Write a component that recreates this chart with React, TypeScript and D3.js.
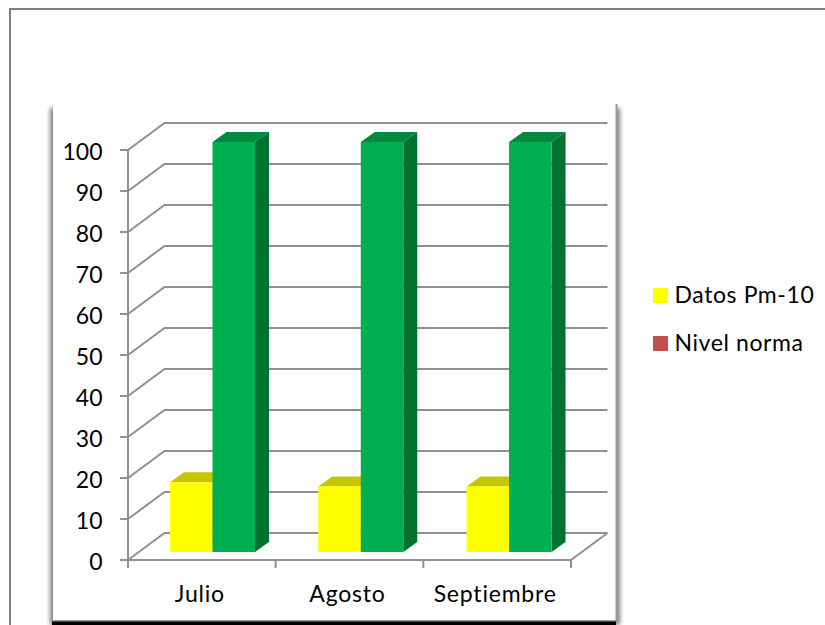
import React from "react";
import * as d3 from "d3";

const categories = ["Julio", "Agosto", "Septiembre"];
const seriesPm10 = [17, 16, 16];
const seriesNorma = [100, 100, 100];
const yTicks = [0, 10, 20, 30, 40, 50, 60, 70, 80, 90, 100];
const legendItems = [
  { label: "Datos Pm-10", color: "#ffff00" },
  { label: "Nivel norma", color: "#c0504d" },
];

const WIDTH = 825;
const HEIGHT = 625;
const FONT = "Lato, 'Open Sans', sans-serif";
const GRID = "#909090";

// Axis plane
const y = d3.scaleLinear().domain([0, 100]).range([560, 150]);
const x = d3.scaleBand<string>().domain(categories).range([128, 571]);
const depth = { dx: 36.5, dy: -27 };
// Bars sit part way into the floor
const barOffset = { dx: 11, dy: -8 };
const barDepth = { dx: 14, dy: -10 };
const barWidth = 42.5;
const barStart = 42;

function Bar({ x0, top, bottom, front, topFace, side }: { x0: number; top: number; bottom: number; front: string; topFace: string; side: string }) {
  const x1 = x0 + barWidth;
  const { dx, dy } = barDepth;
  return (
    <g>
      <path d={`M${x1},${top}L${x1 + dx},${top + dy}L${x1 + dx},${bottom + dy}L${x1},${bottom}Z`} fill={side} />
      <path d={`M${x0},${top}L${x0 + dx},${top + dy}L${x1 + dx},${top + dy}L${x1},${top}Z`} fill={topFace} />
      <rect x={x0} y={top} width={barWidth} height={bottom - top} fill={front} />
    </g>
  );
}

export default function App() {
  const step = x.step();
  const left = x.range()[0];
  const right = x.range()[1];
  return (
    <svg
      width={WIDTH}
      height={HEIGHT}
      viewBox={`0 0 ${WIDTH} ${HEIGHT}`}
      style={{ position: "absolute", left: 0, top: 0, background: "#fff" }}
    >
      <defs>
        <filter id="blur" x="-10%" y="-10%" width="120%" height="120%">
          <feGaussianBlur stdDeviation="2.2" />
        </filter>
      </defs>
      {/* Outer page frame */}
      <path d={`M10,${HEIGHT}V9H${WIDTH}`} fill="none" stroke="#808080" strokeWidth={2} />

      {/* Chart panel */}
      <rect x={50} y={108} width={570} height={517} fill="#808080" filter="url(#blur)" />
      <rect x={53} y={96} width={563} height={525} fill="#fff" />
      <path d="M616.5,104V621H53" fill="none" stroke="#9a9a9a" strokeWidth={2} />
      <rect x={52} y={621.5} width={564} height={3.5} fill="#000" />

      {/* Gridlines on wall and side */}
      {yTicks.map((t) => (
        <path
          key={t}
          d={`M120,${y(t)}H${left}L${left + depth.dx},${y(t) + depth.dy}H${right + depth.dx}`}
          fill="none"
          stroke={GRID}
          strokeWidth={2}
        />
      ))}

      {/* Floor and axes */}
      <path
        d={`M${left},${y(0)}H${right}L${right + depth.dx},${y(0) + depth.dy}`}
        fill="none"
        stroke={GRID}
        strokeWidth={2}
      />
      <path d={`M${left},${y(100)}V${y(0) + 8}`} fill="none" stroke={GRID} strokeWidth={2} />
      {d3.range(1, categories.length + 1).map((i) => (
        <line key={i} x1={left + i * step} x2={left + i * step} y1={y(0)} y2={y(0) + 8} stroke={GRID} strokeWidth={2} />
      ))}

      {/* Bars */}
      {categories.map((c, i) => {
        const x0 = (x(c) as number) + barStart + i * 0.6;
        const base = y(0) + barOffset.dy;
        const h0 = y(0) - y(seriesPm10[i]);
        const h1 = y(0) - y(seriesNorma[i]);
        return (
          <g key={c}>
            <Bar x0={x0} top={base - h0} bottom={base} front="#ffff00" topFace="#c6c600" side="#a8a800" />
            <Bar x0={x0 + barWidth} top={base - h1} bottom={base} front="#00b050" topFace="#008a3e" side="#00722f" />
          </g>
        );
      })}

      {/* Tick labels */}
      {yTicks.map((t) => (
        <text key={t} x={102.5} y={y(t) + 9.5} textAnchor="end" fontFamily={FONT} fontSize={23} fill="#000">
          {t}
        </text>
      ))}
      {categories.map((c) => (
        <text
          key={c}
          x={(x(c) as number) + x.bandwidth() / 2 - 2}
          y={602}
          textAnchor="middle"
          fontFamily={FONT}
          fontSize={23}
          letterSpacing={0.8}
          fill="#000"
        >
          {c}
        </text>
      ))}

      {/* Legend */}
      {legendItems.map((d, i) => (
        <g key={d.label} transform={`translate(653,${288 + i * 48})`}>
          <rect width={15} height={15} fill={d.color} />
          <text x={21.5} y={15} fontFamily={FONT} fontSize={23} letterSpacing={0.6} fill="#000">
            {d.label}
          </text>
        </g>
      ))}
    </svg>
  );
}
